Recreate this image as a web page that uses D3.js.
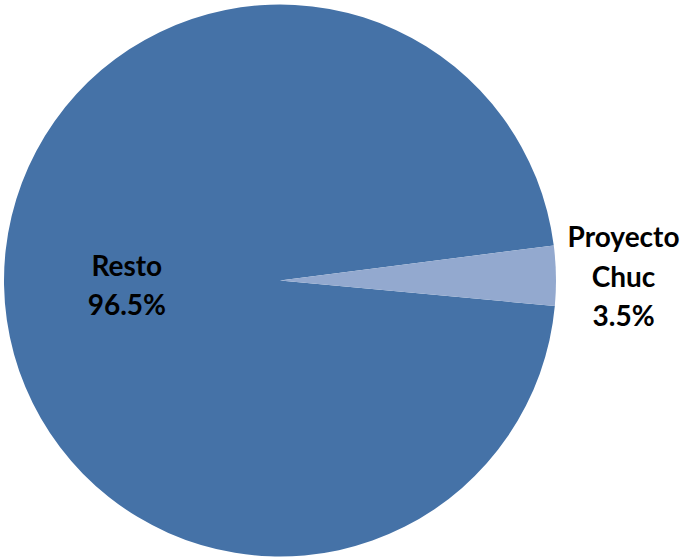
<!DOCTYPE html>
<html>
<head>
<meta charset="utf-8">
<script src="https://cdn.jsdelivr.net/npm/d3@7"></script>
<style>
  html, body { margin: 0; padding: 0; background: #ffffff; }
  svg { display: block; }
  text { font-family: Lato, "Open Sans", sans-serif; font-weight: 700; fill: #000; }
</style>
</head>
<body>
<svg id="chart" width="686" height="559"></svg>
<script>
// Share of production: rest of the fields vs. Proyecto Chuc
const categories = ["Resto", "Proyecto Chuc"];
const shares = [96.5, 3.5];
const labelLines = [["Resto", "96.5%"], ["Proyecto", "Chuc", "3.5%"]];
const colors = ["#4572a7", "#93a9cf"];

const width = 686, height = 559;
const cx = 280, cy = 280.5, radius = 276;
const deg = Math.PI / 180;
const start = 95.3 * deg;

const svg = d3.select("#chart");
const g = svg.append("g").attr("transform", `translate(${cx},${cy})`);

const pie = d3.pie().sort(null).value(d => d).startAngle(start).endAngle(start + 2 * Math.PI);
const arcs = pie(shares);

const arc = d3.arc().innerRadius(0).outerRadius(radius);
const colorScale = d3.scaleOrdinal().domain(categories).range(colors);

g.selectAll("path.slice")
  .data(arcs)
  .join("path")
  .attr("class", "slice")
  .attr("d", arc)
  .attr("fill", (d, i) => colorScale(categories[i]));

// Inside label for the large slice, outside label for the small one
const innerLabelArc = d3.arc().innerRadius(radius * 0.555).outerRadius(radius * 0.555);
const outerLabelArc = d3.arc().innerRadius(radius * 1.245).outerRadius(radius * 1.245);

const fontSize = 28;
const lineHeight = 39.5;

arcs.forEach((d, i) => {
  const [x, y] = (i === 0 ? innerLabelArc : outerLabelArc).centroid(d);
  const lines = labelLines[i];
  const t = g.append("text")
    .attr("text-anchor", "middle")
    .attr("font-size", fontSize);
  const firstDy = -((lines.length - 1) / 2) * lineHeight + fontSize * 0.38 + 1.5;
  lines.forEach((line, j) => {
    t.append("tspan")
      .attr("x", x)
      .attr("y", y + firstDy + j * lineHeight)
      .text(line);
  });
});
</script>
</body>
</html>
